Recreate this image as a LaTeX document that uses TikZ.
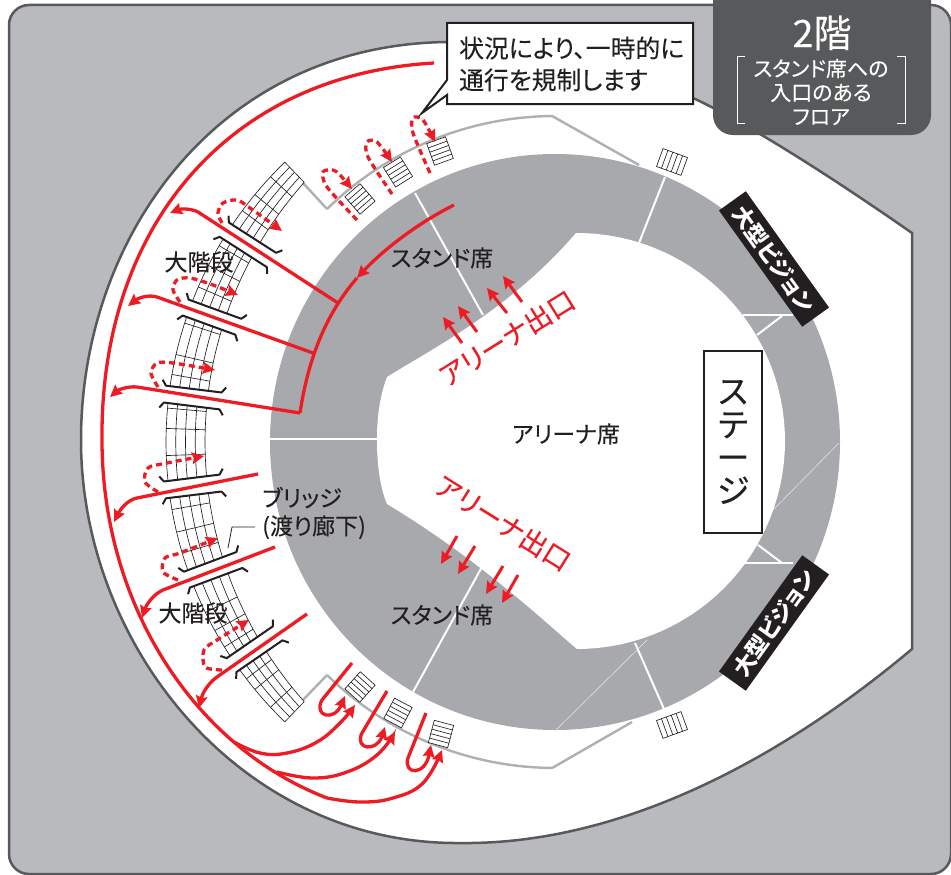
\documentclass[tikz,border=0pt]{standalone}
\usepackage{fontspec}
\setmainfont[RawFeature=+palt,FakeBold=0.12]{Noto Sans CJK JP}
\newfontfamily\jpv[RawFeature=+vert,FakeBold=0.12]{Noto Sans CJK JP}
\newfontfamily\jpb[RawFeature=+palt]{Noto Sans CJK JP}
\usetikzlibrary{arrows.meta}
\definecolor{framegray}{HTML}{B9BABE}
\definecolor{darkedge}{HTML}{58595B}
\definecolor{ringgray}{HTML}{A7A9AC}
\definecolor{wallgray}{HTML}{AEB0B2}
\definecolor{myred}{HTML}{ED1C24}
\definecolor{myblack}{HTML}{231F20}
\tikzset{
  txt/.style={font=\fontsize{#1}{#1}\selectfont,inner sep=0pt,text=myblack,align=center},
  redln/.style={draw=myred,line width=3.3pt},
  redarr/.style={redln,-{Stealth[length=12pt,width=11.5pt,inset=1.5pt]}},
  reddash/.style={redarr,dash pattern=on 6pt off 4pt},
  shortarr/.style={draw=myred,line width=3pt,-{Stealth[length=12pt,width=11.5pt,inset=1.5pt]}},
  stairline/.style={draw=myblack,line width=0.65pt},
  bracketline/.style={draw=myblack,line width=2pt,line join=round},
  sep/.style={draw=white,line width=2pt},
  thinsep/.style={draw=white!75!ringgray,line width=0.5pt},
  wall/.style={draw=wallgray,line width=2.4pt,line join=miter},
  vision/.style={fill=myblack,text=white,minimum width=143pt,minimum height=33pt,inner sep=0pt,font=\jpb\bfseries\fontsize{22}{22}\selectfont},
}
% small stair box: centre x, y, angle, width, height
\newcommand{\stairbox}[5]{%
  \begin{scope}[shift={(#1,#2)},rotate=#3]
    \fill[white] ({-#4/2},{-#5/2}) rectangle ({#4/2},{#5/2});
    \draw[stairline] ({-#4/2},{-#5/2}) rectangle ({#4/2},{#5/2});
    \foreach \k in {1,2,3,4}
      \draw[stairline] ({-#4/2+#4*\k/5},{-#5/2}) -- ({-#4/2+#4*\k/5},{#5/2});
  \end{scope}}
% long stair band segment between angles, with cross lines
\newcommand{\stairseg}[3]{%
  \foreach \f in {0,0.25,0.5,0.75,1}
    \draw[stairline] plot[domain=#1:#2,samples=8,variable=\t]
      ({555-(350+11*(\t/46)^2+(389-350-11*(\t/46)^2)*\f)*cos(\t)},
       {442-(350+11*(\t/46)^2+(389-350-11*(\t/46)^2)*\f)*sin(\t)});
  \foreach \t in {#3}
    \draw[stairline] plot[domain=0:1,samples=2,variable=\f]
      ({555-(350+11*(\t/46)^2+(389-350-11*(\t/46)^2)*\f)*cos(\t)},
       {442-(350+11*(\t/46)^2+(389-350-11*(\t/46)^2)*\f)*sin(\t)});
}
% pair of bridge brackets
\newcommand{\bridgebr}[1]{%
  \begin{scope}[shift={(555,442)},rotate=-#1]
    \draw[bracketline] (-397,-14) -- (-393,-8.5) -- (-337,-8.5) -- (-333,-14);
    \draw[bracketline] (-397,14) -- (-393,8.5) -- (-337,8.5) -- (-333,14);
  \end{scope}}
\begin{document}
\begin{tikzpicture}[x=1pt,y=-1pt]
\useasboundingbox (0,0) rectangle (951,875);
% frame
\fill[white] (0,0) rectangle (951,875);
\draw[fill=framegray,draw=darkedge,line width=2.5pt,rounded corners=20pt] (9,5) rectangle (951,874);
% stadium outline
\draw[fill=white,draw=darkedge,line width=2.5pt,line join=miter]
  (912,649) .. controls (780,760) and (620,845) .. (460,843)
  .. controls (240,845) and (81,645) .. (81,440)
  .. controls (81,240) and (215,45) .. (447,42)
  .. controls (530,41) and (620,65) .. (693,98)
  .. controls (730,115) and (800,155) .. (912,233) -- cycle;
% ring
\fill[ringgray] (555,442) ellipse [x radius=285pt,y radius=288pt];
% arena
\fill[white] (387,377) .. controls (430,350) and (510,310) .. (576,233)
  -- plot[domain=-90:90,samples=61,variable=\a] ({577+208*cos(\a)},{441+208*sin(\a)})
  .. controls (545,622) and (480,560) .. (387,504)
  .. controls (379,485) and (377,460) .. (377,440)
  .. controls (377,420) and (379,398) .. (387,377) -- cycle;
% ring separators
\draw[sep] (415,193) -- (483,315);
\draw[sep] (665,177) -- (639,243);
\draw[sep] (743,315) -- (793,315);
\draw[sep] (782,316) -- (757,335);
\draw[sep] (745,563) -- (793,563);
\draw[sep] (758,545) -- (782,563);
\draw[sep] (635,643) -- (664,709);
\draw[sep] (483,565) -- (413,692);
\draw[sep] (270,439) -- (377,439);
\draw[thinsep] (839,443) -- (773,510);
\draw[thinsep] (647,640) -- (555,731);
% walls
\draw[wall] (303,183) -- (327,209) -- plot[domain=45.6:89.5,samples=30,variable=\a] ({555-326*cos(\a)},{442-326*sin(\a)}) -- (639,165);
\draw[wall] (303,700) -- (327,675) -- plot[domain=45.6:89.5,samples=30,variable=\a] ({555-326*cos(\a)},{442+326*sin(\a)}) -- (632,722);
% long stair band
\stairseg{46}{34}{36.5,39.5,43,46}
\stairseg{31.4}{21.3}{23.5,27,30.3}
\stairseg{18.7}{8.3}{10,13,17.8}
\stairseg{5.7}{-5.7}{-2,2,5}
\stairseg{-8.3}{-19.2}{-10,-13.4,-16.6}
\stairseg{-21.8}{-33.3}{-26,-29,-31.8}
\stairseg{-35.9}{-46}{-37.5,-39.5,-43,-46}
\bridgebr{32.7}
\bridgebr{20}
\bridgebr{7}
\bridgebr{-7}
\bridgebr{-20.5}
\bridgebr{-34.6}
% small stairs
\stairbox{360}{199}{-49}{23}{20}
\stairbox{398}{172}{-58}{23}{20}
\stairbox{440}{151}{-70}{23}{20}
\stairbox{360}{687}{48}{23}{20}
\stairbox{398}{713}{62}{23}{20}
\stairbox{441}{734}{75}{23}{20}
\stairbox{672}{162}{-20}{26}{19}
\stairbox{672}{725}{20}{26}{19}
% stage
\node[draw=myblack,line width=2pt,fill=white,minimum width=58pt,minimum height=182pt,inner sep=0pt] (stage) at (733,442) {};
\node[txt=33] (stagetext) at (733,442) {\jpv\fontsize{34}{36}\selectfont ス\\テ\\ー\\ジ};
% big vision panels
\node[vision,rotate=-54.4] (vis1) at (774,259) {大型ビジョン};
\node[vision,rotate=54.4] (vis2) at (774,623) {大型ビジョン};
% red main lines
\draw[redln] (434,63) .. controls (225,75) and (100,230) .. (102,440)
  .. controls (102,600) and (190,745) .. (327,798);
\draw[redarr] plot[smooth,tension=0.7] coordinates {(327,798) (360,802) (393,798) (423,783) (442,750)};
\draw[redarr] plot[smooth,tension=0.7] coordinates {(277,772) (313,778) (347,772) (377,755) (395,732)};
\draw[redarr] plot[smooth,tension=0.7] coordinates {(234,742) (260,753) (287,753) (317,742) (340,723) (355,705)};
% U turns
\draw[redarr,line join=round] (352,663) -- (322,700) .. controls (313,716) and (334,722) .. (345,696);
\draw[redarr,line join=round] (387,691) -- (362,733) .. controls (354,750) and (377,752) .. (385,727);
\draw[redarr,line join=round] (426,713) -- (408,758) .. controls (403,775) and (425,776) .. (431,745);
% seating red path with mid arrow
\coordinate (mid) at (357,278);
\draw[redarr] (454,205) .. controls (420,222) and (385,248) .. (mid);
\draw[redln,line join=miter] (mid) .. controls (325,315) and (308,360) .. (300,413);
\draw[redarr,line join=round] (300,413) -- (137,387) .. controls (128,386) and (118,390) .. (110,397);
\draw[redarr] (313,353) -- (157,297) .. controls (147,294) and (137,299) .. (128,306);
\draw[redarr] (338,303) -- (198,212) .. controls (190,208) and (180,209) .. (170,213);
\draw[redarr] (258,474) -- (137,498) .. controls (127,500) and (120,510) .. (114,522);
\draw[redarr] (275,547) -- (163,590) .. controls (152,595) and (146,606) .. (142,618);
\draw[redarr] (307,614) -- (217,677) .. controls (207,684) and (202,695) .. (199,708);
% dashed turns
\draw[reddash] plot[smooth] coordinates {(222,223) (218,213) (223,203) (237,200) (250,208) (282,231)};
\draw[reddash] plot[smooth] coordinates {(180,302) (173,290) (177,280) (190,278) (213,285) (238,295)};
\draw[reddash] plot[smooth] coordinates {(158,387) (151,373) (157,363) (173,363) (215,370)};
\draw[reddash] plot[smooth] coordinates {(158,492) (145,482) (148,468) (167,463) (204,456)};
\draw[reddash] plot[smooth] coordinates {(178,580) (163,572) (165,558) (180,553) (218,538)};
\draw[reddash] plot[smooth] coordinates {(222,670) (205,667) (204,650) (217,640) (249,620)};
\draw[reddash] plot[smooth] coordinates {(357,220) (327,187) (323,172) (333,170) (340,175) (352,189)};
\draw[reddash] plot[smooth] coordinates {(392,194) (368,157) (367,142) (377,142) (392,162)};
\draw[reddash] plot[smooth] coordinates {(430,173) (413,133) (413,118) (423,120) (435,142)};
% exit arrows
\draw[shortarr] (462,343) -- (443,317);
\draw[shortarr] (477,332) -- (458,306);
\draw[shortarr] (507,313) -- (487,288);
\draw[shortarr] (522,302) -- (503,276);
\draw[shortarr] (457,536) -- (441,564);
\draw[shortarr] (475,546) -- (458,574);
\draw[shortarr] (503,566) -- (486,594);
\draw[shortarr] (518,575) -- (502,603);
% labels
\node[txt=23] (stand1) at (442,258) {スタンド席};
\node[txt=23] (stand2) at (442,615) {スタンド席};
\node[txt=23] (arena) at (566,434) {アリーナ席};
\node[txt=27,text=myred,rotate=32] (exit1) at (507,338) {アリーナ出口};
\node[txt=27,text=myred,rotate=-32] (exit2) at (503,523) {アリーナ出口};
\node[txt=23] (step1) at (199,262) {大階段};
\node[txt=23] (step2) at (193,613) {大階段};
\node[txt=23,anchor=west,align=left] (bridgetext) at (262,513) {ブリッジ\\[5pt](渡り廊下)};
\coordinate (leadA) at (228,548);
\coordinate (leadB) at (232,527);
\draw[draw=myblack,line width=0.8pt] (leadA) -- (leadB) -- ([xshift=-7pt]bridgetext.west |- leadB);
% callout
\draw[fill=white,draw=myblack,line width=2pt,line join=miter] (447,23) -- (693,23) -- (693,104) -- (447,104) -- (447,95) -- (422,113) -- (447,80) -- cycle;
\node[txt=24.8,anchor=west,align=left] (callout) at (459,64) {状況により、一時的に\\[7pt]通行を規制します};
% floor panel
\path[fill=darkedge,rounded corners=20pt] (713,-30) rectangle (931,135);
\node[txt=38,text=white] (floor) at (822,33) {2階};
\node[txt=21,text=white] (floorsub) at (821,92) {スタンド席への\\[3pt]入口のある\\[3pt]フロア};
\draw[draw=white,line width=1pt] (745,57) -- (737,57) -- (737,123) -- (745,123);
\draw[draw=white,line width=1pt] (897,57) -- (905,57) -- (905,123) -- (897,123);
\draw[draw=darkedge,line width=2.5pt] (713,5) -- (931,5);
\end{tikzpicture}
\end{document}
